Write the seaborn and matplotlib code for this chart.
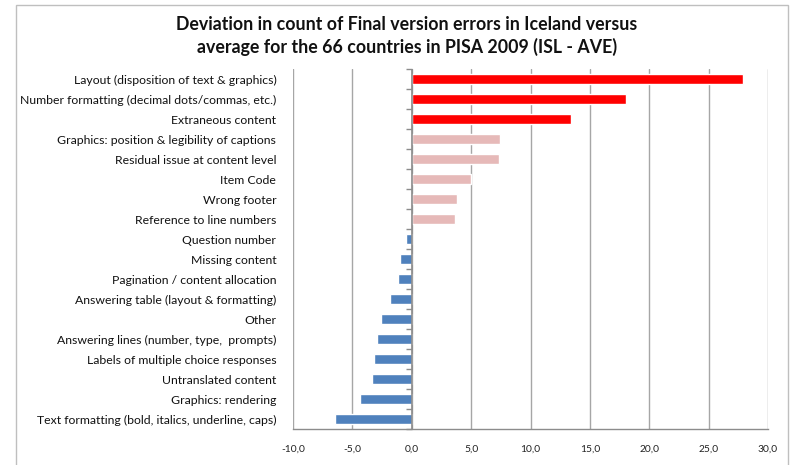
import matplotlib
matplotlib.use("Agg")
import matplotlib.pyplot as plt
import seaborn as sns
import pandas as pd
from matplotlib.patches import Rectangle
from matplotlib.ticker import FuncFormatter

categories = [
    "Layout (disposition of text & graphics)",
    "Number formatting (decimal dots/commas, etc.)",
    "Extraneous content",
    "Graphics: position & legibility of captions",
    "Residual issue at content level",
    "Item Code",
    "Wrong footer",
    "Reference to line numbers",
    "Question number",
    "Missing content",
    "Pagination / content allocation",
    "Answering table (layout & formatting)",
    "Other",
    "Answering lines (number, type,  prompts)",
    "Labels of multiple choice responses",
    "Untranslated content",
    "Graphics: rendering",
    "Text formatting (bold, italics, underline, caps)",
]
values = [27.9, 18.05, 13.45, 7.45, 7.35, 4.95, 3.85, 3.65,
          -0.45, -0.95, -1.2, -1.8, -2.6, -2.95, -3.2, -3.35, -4.4, -6.45]
groups = ["high"] * 3 + ["mid"] * 5 + ["low"] * 10
group_colors = {"high": "#FF0000", "mid": "#E6B9B8", "low": "#4F81BD"}
x_ticks = [-10, -5, 0, 5, 10, 15, 20, 25, 30]
title = "Deviation in count of Final version errors in Iceland versus\naverage for the 66 countries in PISA 2009 (ISL - AVE)"

df = pd.DataFrame({"category": categories, "value": values, "group": groups})

sns.set_theme(style="white")
plt.rcParams["font.family"] = ["Lato", "DejaVu Sans"]

fig = plt.figure(figsize=(7.91, 4.65), dpi=100)
fig.patch.set_facecolor("white")
ax = fig.add_axes([293 / 791, 36 / 465, (768 - 293) / 791, (429 - 69) / 465])

sns.barplot(data=df, x="value", y="category", hue="group", palette=group_colors,
            width=0.5, orient="h", legend=False, ax=ax, saturation=1)

ax.set_xlim(-10, 30)
ax.set_ylim(len(categories) - 0.5, -0.5)
ax.set_xticks(x_ticks)
ax.xaxis.set_major_formatter(FuncFormatter(lambda v, p: f"{v:.1f}".replace(".", ",")))
ax.set_xlabel("")
ax.set_ylabel("")
ax.grid(axis="x", color="#A6A6A6", linewidth=1.0)
ax.grid(axis="y", visible=False)
ax.set_axisbelow(True)
for s in ["top", "right", "left"]:
    ax.spines[s].set_visible(False)
ax.spines["bottom"].set_color("#8C8C8C")
ax.spines["bottom"].set_linewidth(1.0)
ax.tick_params(axis="x", which="major", direction="out", length=4, width=1,
               color="#8C8C8C", labelsize=7.4, labelcolor="#222222", pad=7)
ax.tick_params(axis="y", length=0, labelsize=8.8, labelcolor="#111111", pad=12)

ax.axvline(0, color="#8C8C8C", linewidth=1.2, zorder=1)
sec = ax.secondary_yaxis(0.25)
sec.set_yticks([i - 0.5 for i in range(len(categories) + 1)])
sec.set_yticklabels([])
sec.tick_params(axis="y", length=4, width=1, color="#8C8C8C", direction="out")
sec.spines["left"].set_visible(False)

fig.text(407 / 791, 1 - 36 / 465, title, ha="center", va="center",
         fontsize=12.8, fontweight="bold", color="#111111", linespacing=1.3)

fig.patches.append(Rectangle((16 / 791, -0.01), (788 - 16) / 791, (465 - 5) / 465 + 0.01,
                             transform=fig.transFigure, fill=False,
                             edgecolor="#BFBFBF", linewidth=1.0))

fig.savefig("out.png", dpi=100)
